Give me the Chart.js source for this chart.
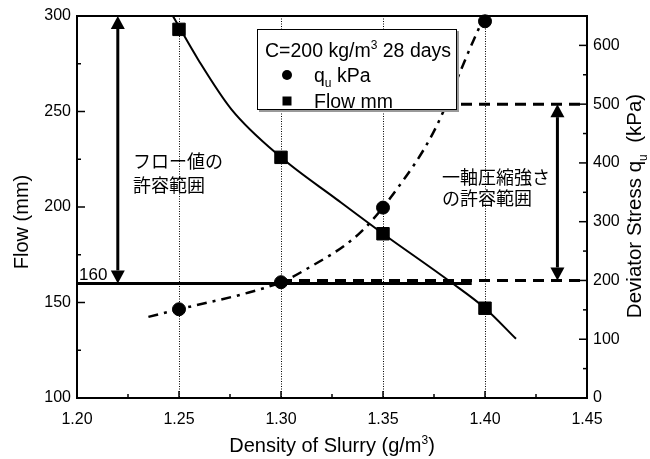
<!DOCTYPE html>
<html>
<head>
<meta charset="utf-8">
<script src="https://cdn.jsdelivr.net/npm/chart.js@4.4.1/dist/chart.umd.min.js"></script>
<style>
html, body { margin: 0; padding: 0; background: #ffffff; }
#wrap { width: 650px; height: 459px; }
</style>
</head>
<body>
<div id="wrap"><canvas id="densityChart"></canvas></div>
<script>
// measured points
var density = [1.25, 1.30, 1.35, 1.40];
var quValues = [151, 197, 324, 641];
var flowValues = [293, 226, 186, 147];

// fitted curves
var flowFitX = [1.2470, 1.2595, 1.2758, 1.30, 1.3273, 1.35, 1.3828, 1.40, 1.4152];
var flowFitY = [300, 277, 251, 226, 204, 186, 161, 147, 131];
var quFitX = [1.235, 1.25, 1.2636, 1.2815, 1.30, 1.3108, 1.3387, 1.3567, 1.3747, 1.3943, 1.40];
var quFitY = [138, 151, 162, 177, 197, 216, 281, 355, 452, 608, 652];

// allowable ranges
var flowLimit = 160;
var flowLimitX = [1.20, 1.3935];
var quRange = [200, 500];
var quRangeX = [1.30, 1.45];
var flowArrowX = 1.22;
var flowArrowY = [300, 160];
var quArrowX = 1.4355;

// axis ticks
var xTicks = [1.20, 1.25, 1.30, 1.35, 1.40, 1.45];
var xMinor = [1.225, 1.275, 1.325, 1.375, 1.425];
var gridX = [1.25, 1.30, 1.35, 1.40];
var flowTicks = [100, 150, 200, 250, 300];
var flowMinor = [125, 175, 225, 275];
var stressTicks = [0, 100, 200, 300, 400, 500, 600];
var stressMinor = [50, 150, 250, 350, 450, 550];

var latin = "'Liberation Sans', Arial, sans-serif";
var jp = "'Noto Sans CJK JP', sans-serif";

function toPoints(xs, ys) {
    return xs.map(function (x, i) { return { x: x, y: ys[i] }; });
}

// text with sub/superscript pieces
function richWidth(ctx, parts, size) {
    var w = 0;
    parts.forEach(function (p) {
        ctx.font = (p.sub || p.sup ? Math.round(size * 0.6) : size) + 'px ' + latin;
        w += ctx.measureText(p.t).width;
    });
    return w;
}

function drawRich(ctx, parts, x, y, size, align) {
    var w = richWidth(ctx, parts, size);
    var cx = align === 'center' ? x - w / 2 : x;
    ctx.textAlign = 'left';
    ctx.textBaseline = 'alphabetic';
    parts.forEach(function (p) {
        var s = p.sub || p.sup ? Math.round(size * 0.6) : size;
        var dy = p.sub ? size * 0.28 : (p.sup ? -size * 0.42 : 0);
        ctx.font = s + 'px ' + latin;
        ctx.fillText(p.t, cx, y + dy);
        cx += ctx.measureText(p.t).width;
    });
}

function drawArrow(ctx, x, yTop, yBottom) {
    var hw = 7, hh = 13;
    ctx.lineWidth = 3;
    ctx.beginPath();
    ctx.moveTo(x, yTop + hh);
    ctx.lineTo(x, yBottom - hh);
    ctx.stroke();
    ctx.beginPath();
    ctx.moveTo(x, yTop);
    ctx.lineTo(x - hw, yTop + hh);
    ctx.lineTo(x + hw, yTop + hh);
    ctx.closePath();
    ctx.fill();
    ctx.beginPath();
    ctx.moveTo(x, yBottom);
    ctx.lineTo(x - hw, yBottom - hh);
    ctx.lineTo(x + hw, yBottom - hh);
    ctx.closePath();
    ctx.fill();
}

var frame = {
    id: 'frame',
    beforeDatasetsDraw: function (chart) {
        var ctx = chart.ctx;
        var a = chart.chartArea;
        var sx = chart.scales.x, sy = chart.scales.y, s2 = chart.scales.y1;
        ctx.save();
        // dotted verticals
        ctx.strokeStyle = '#000';
        ctx.lineWidth = 1;
        ctx.setLineDash([1, 1.5]);
        gridX.forEach(function (v) {
            var px = Math.round(sx.getPixelForValue(v)) + 0.5;
            ctx.beginPath();
            ctx.moveTo(px, a.top);
            ctx.lineTo(px, a.bottom);
            ctx.stroke();
        });
        ctx.setLineDash([]);
        // top border
        ctx.lineWidth = 2;
        ctx.beginPath();
        ctx.moveTo(a.left, a.top);
        ctx.lineTo(a.right, a.top);
        ctx.stroke();
        // inward tick marks
        ctx.lineWidth = 1.5;
        function tick(x1, y1, x2, y2) {
            ctx.beginPath();
            ctx.moveTo(x1, y1);
            ctx.lineTo(x2, y2);
            ctx.stroke();
        }
        xTicks.forEach(function (v) { var p = sx.getPixelForValue(v); tick(p, a.bottom, p, a.bottom - 7); });
        xMinor.forEach(function (v) { var p = sx.getPixelForValue(v); tick(p, a.bottom, p, a.bottom - 4); });
        flowTicks.forEach(function (v) { var p = sy.getPixelForValue(v); tick(a.left, p, a.left + 8, p); });
        flowMinor.forEach(function (v) { var p = sy.getPixelForValue(v); tick(a.left, p, a.left + 4, p); });
        stressTicks.forEach(function (v) { var p = s2.getPixelForValue(v); tick(a.right, p, a.right - 8, p); });
        stressMinor.forEach(function (v) { var p = s2.getPixelForValue(v); tick(a.right, p, a.right - 4, p); });
        ctx.restore();
    },
    afterDatasetsDraw: function (chart) {
        var ctx = chart.ctx;
        var a = chart.chartArea;
        var sx = chart.scales.x, sy = chart.scales.y, s2 = chart.scales.y1;
        ctx.save();
        ctx.fillStyle = '#000';
        ctx.strokeStyle = '#000';

        // range arrows
        drawArrow(ctx, sx.getPixelForValue(flowArrowX), sy.getPixelForValue(flowArrowY[0]), sy.getPixelForValue(flowArrowY[1]));
        drawArrow(ctx, sx.getPixelForValue(quArrowX), s2.getPixelForValue(quRange[1]), s2.getPixelForValue(quRange[0]));

        // 160 label on the flow limit
        ctx.font = '17px ' + latin;
        ctx.textAlign = 'left';
        ctx.textBaseline = 'alphabetic';
        ctx.fillText(String(flowLimit), a.left + 2, sy.getPixelForValue(flowLimit) - 3);

        // japanese notes
        ctx.font = '18px ' + jp;
        ctx.textBaseline = 'middle';
        ctx.fillText('フロー値の', a.left + 56, 161);
        ctx.fillText('許容範囲', a.left + 56, 185);
        ctx.fillText('一軸圧縮強さ', a.left + 365, 177);
        ctx.fillText('の許容範囲', a.left + 365, 198);

        // legend box
        var lx = a.left + 180, ly = a.top + 13, lw = 200, lh = 81;
        ctx.fillStyle = '#999';
        ctx.fillRect(lx + 2, ly + 2, lw, lh);
        ctx.fillStyle = '#fff';
        ctx.fillRect(lx, ly, lw, lh);
        ctx.lineWidth = 1;
        ctx.strokeRect(lx + 0.5, ly + 0.5, lw - 1, lh - 1);
        ctx.fillStyle = '#000';
        drawRich(ctx, [{ t: 'C=200 kg/m' }, { t: '3', sup: true }, { t: ' 28 days' }], lx + 8, ly + 28, 19.5, 'left');
        ctx.beginPath();
        ctx.arc(lx + 30, ly + 46, 5, 0, Math.PI * 2);
        ctx.fill();
        ctx.fillRect(lx + 25.5, ly + 67.5, 9, 9);
        drawRich(ctx, [{ t: 'q' }, { t: 'u', sub: true }, { t: ' kPa' }], lx + 57, ly + 53, 19.5, 'left');
        drawRich(ctx, [{ t: 'Flow mm' }], lx + 57, ly + 79, 19.5, 'left');

        // axis titles
        drawRich(ctx, [{ t: 'Density of Slurry (g/m' }, { t: '3', sup: true }, { t: ')' }], (a.left + a.right) / 2, 452, 20, 'center');
        ctx.translate(28, 222);
        ctx.rotate(-Math.PI / 2);
        drawRich(ctx, [{ t: 'Flow (mm)' }], 0, 0, 20, 'center');
        ctx.setTransform(1, 0, 0, 1, 0, 0);
        ctx.translate(641, 206);
        ctx.rotate(-Math.PI / 2);
        drawRich(ctx, [{ t: 'Deviator Stress q' }, { t: 'u', sub: true }, { t: '  (kPa)' }], 0, 0, 20.5, 'center');
        ctx.restore();
    }
};

var ctx = document.getElementById('densityChart').getContext('2d');
var densityChart = new Chart(ctx, {
    type: 'scatter',
    data: {
        datasets: [{
            label: 'qu kPa',
            data: toPoints(density, quValues),
            yAxisID: 'y1',
            pointStyle: 'circle',
            pointRadius: 6.5,
            backgroundColor: '#000',
            borderColor: '#000',
            clip: false
        },
        {
            label: 'Flow mm',
            data: toPoints(density, flowValues),
            yAxisID: 'y',
            pointStyle: 'rect',
            pointRadius: 8.8,
            backgroundColor: '#000',
            borderColor: '#000'
        },
        {
            // flow fit
            data: toPoints(flowFitX, flowFitY),
            yAxisID: 'y',
            showLine: true,
            pointRadius: 0,
            borderColor: '#000',
            borderWidth: 2,
            cubicInterpolationMode: 'monotone'
        },
        {
            // qu fit
            data: toPoints(quFitX, quFitY),
            yAxisID: 'y1',
            showLine: true,
            pointRadius: 0,
            borderColor: '#000',
            borderWidth: 2.5,
            borderDash: [10, 6, 3, 6],
            cubicInterpolationMode: 'monotone'
        },
        {
            // flow limit
            data: toPoints(flowLimitX, [flowLimit, flowLimit]),
            yAxisID: 'y',
            showLine: true,
            pointRadius: 0,
            borderColor: '#000',
            borderWidth: 3
        },
        {
            // qu lower limit
            data: toPoints(quRangeX, [quRange[0], quRange[0]]),
            yAxisID: 'y1',
            showLine: true,
            pointRadius: 0,
            borderColor: '#000',
            borderWidth: 3,
            borderDash: [11, 7]
        },
        {
            // qu upper limit
            data: toPoints(quRangeX, [quRange[1], quRange[1]]),
            yAxisID: 'y1',
            showLine: true,
            pointRadius: 0,
            borderColor: '#000',
            borderWidth: 3,
            borderDash: [11, 7]
        }]
    },
    options: {
        responsive: true,
        maintainAspectRatio: false,
        animation: false,
        events: [],
        layout: {
            padding: { top: 16, left: 0, right: 0, bottom: 0 }
        },
        plugins: {
            legend: { display: false },
            tooltip: { enabled: false }
        },
        scales: {
            x: {
                type: 'linear',
                min: 1.2,
                max: 1.45,
                afterBuildTicks: function (scale) {
                    scale.ticks = xTicks.map(function (v) { return { value: v }; });
                },
                afterFit: function (scale) { scale.height = 61; },
                ticks: {
                    color: '#000',
                    padding: 12,
                    font: { family: latin, size: 16 },
                    callback: function (v) { return v.toFixed(2); }
                },
                grid: { display: false, drawTicks: false },
                border: { display: true, color: '#000', width: 2 }
            },
            y: {
                position: 'left',
                min: 100,
                max: 300,
                afterBuildTicks: function (scale) {
                    scale.ticks = flowTicks.map(function (v) { return { value: v }; });
                },
                afterFit: function (scale) { scale.width = 77; },
                ticks: {
                    color: '#000',
                    padding: 6,
                    font: { family: latin, size: 16 }
                },
                grid: { display: false, drawTicks: false },
                border: { display: true, color: '#000', width: 2 }
            },
            y1: {
                position: 'right',
                min: 0,
                max: 650,
                afterBuildTicks: function (scale) {
                    scale.ticks = stressTicks.map(function (v) { return { value: v }; });
                },
                afterFit: function (scale) { scale.width = 63; },
                ticks: {
                    color: '#000',
                    padding: 6,
                    font: { family: latin, size: 16 }
                },
                grid: { display: false, drawTicks: false },
                border: { display: true, color: '#000', width: 2 }
            }
        }
    },
    plugins: [frame]
});
</script>
</body>
</html>
